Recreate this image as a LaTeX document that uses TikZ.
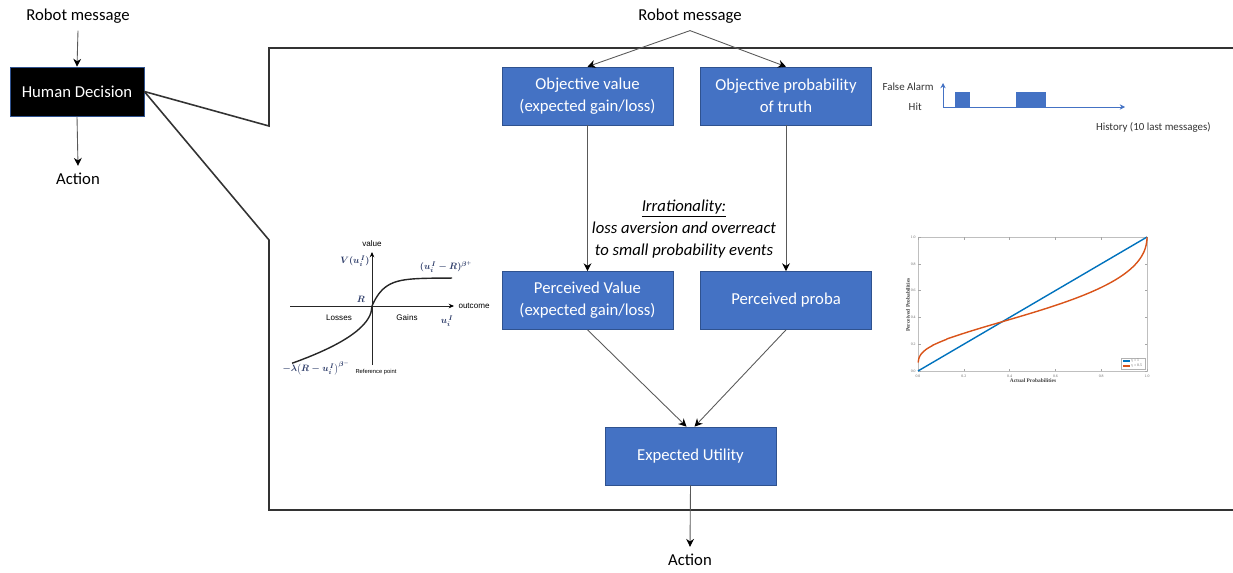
\documentclass[tikz,border=0pt]{standalone}
\usepackage{fontspec}
\setmainfont{Carlito}
\newfontfamily\plotfont{Liberation Sans}
\newfontfamily\matlabfont{Liberation Serif}
\usepackage{amsmath}
\usepackage{xcolor}
\usetikzlibrary{arrows.meta, positioning, calc}
\definecolor{OfficeBlue}{HTML}{4472C4}
\definecolor{OfficeEdge}{HTML}{2F528F}
\definecolor{MatBlue}{HTML}{0072BD}
\definecolor{MatOrange}{HTML}{D95319}
\definecolor{MathNavy}{HTML}{2B3A67}

\begin{document}
\begin{tikzpicture}[
  x=0.02cm, y=-0.02cm,
  >={Stealth[length=4.5pt, width=4.5pt, color=black]},
  block/.style={draw=OfficeEdge, fill=OfficeBlue, text=white, inner sep=0pt,
    minimum width=3.42cm, minimum height=1.16cm, align=center,
    font=\fontsize{9.5}{12.5}\selectfont},
  decision/.style={block, fill=black, minimum width=2.68cm, minimum height=0.98cm},
  caption/.style={inner sep=4pt, font=\fontsize{9.5}{12.5}\selectfont},
  flow/.style={->, draw=black!65, line width=0.5pt},
  frame/.style={draw=black!80, line width=0.9pt},
  plottext/.style={inner sep=0pt, font=\plotfont\fontsize{4.6}{5}\selectfont},
  plotmath/.style={inner sep=0pt, text=MathNavy, font=\fontsize{11}{13}\selectfont,
    scale=0.48, transform shape},
  histtext/.style={inner sep=0pt, text=black!80, font=\fontsize{6.2}{7}\selectfont},
  histaxis/.style={draw=OfficeBlue, line width=0.5pt,
    -{Stealth[length=3pt, width=3pt, color=OfficeBlue]}},
  matlab/.style={inner sep=0pt, text=black!75, font=\matlabfont\bfseries\fontsize{3.1}{3.5}\selectfont},
  tick/.style={inner sep=0pt, text=black!60, font=\matlabfont\fontsize{2.2}{2.5}\selectfont}
]
\useasboundingbox (0,0) rectangle (1233,572);

% Human decision overview
\node[caption] (msgL) at (78,16) {Robot message};
\node[decision] (hd) at (77,91.5) {Human Decision};
\node[caption] (actL) at (78,179) {Action};
\draw[flow] (msgL.south) -- (hd.north);
\draw[flow] (hd.south) -- (actL.north);

% Zoomed frame
\coordinate (fTopIn) at (269,126);
\coordinate (fTopL) at (269,48);
\coordinate (fTopR) at (1233,48);
\coordinate (fBotIn) at (269,240);
\coordinate (fBotL) at (269,510);
\coordinate (fBotR) at (1233,510);
\draw[frame] (hd.east) -- (fTopIn) -- (fTopL) -- (fTopR);
\draw[frame] (hd.east) -- (fBotIn) -- (fBotL) -- (fBotR);

% Decision model
\node[caption] (msgT) at (690,16) {Robot message};
\node[block] (ov) at (587.5,96) {Objective value\\(expected gain/loss)};
\node[block] (op) at (786,96) {Objective probability\\of truth};
\node[block] (pv) at (587.5,300.5) {Perceived Value\\(expected gain/loss)};
\node[block] (pp) at (786,300.5) {Perceived proba};
\node[block] (eu) at (690.5,456) {Expected Utility};
\node[caption] (actT) at (690,560) {Action};
\node[caption, font=\fontsize{9.5}{12.5}\selectfont\itshape, align=center] (irr) at (684,229)
  {\underline{Irrationality:}\\loss aversion and overreact\\to small probability events};

\draw[flow] (msgT.south) -- (ov.north);
\draw[flow] (msgT.south) -- (op.north);
\draw[flow] (ov.south) -- (pv.north);
\draw[flow] (op.south) -- (pp.north);
\draw[flow] (pv.south) -- ($(eu.north)+(-4,0)$);
\draw[flow] (pp.south) -- ($(eu.north)+(4,0)$);
\draw[flow] (eu.south) -- (actT.north);

% History of messages
\coordinate (hO) at (943,107);
\draw[histaxis] (hO) -- (943,83);
\draw[histaxis] (hO) -- (1125,107);
\fill[OfficeBlue] (955,92) rectangle (970,107);
\fill[OfficeBlue] (1016,92) rectangle (1046,107);
\node[histtext, anchor=east] (faL) at (934,87) {False Alarm};
\node[histtext, anchor=east] (hitL) at (922,107) {Hit};
\node[histtext, anchor=east] (histL) at (1211,127) {History (10 last messages)};

% Value function
\draw[black!85, line width=0.5pt, -{Stealth[length=3pt, width=2.6pt, color=black]}] (372,365) -- (372,252);
\draw[black!85, line width=0.5pt, -{Stealth[length=3pt, width=2.6pt, color=black]}] (290,306) -- (454,306);
\draw[black!85, line width=0.8pt] plot[domain=-80:0, samples=80] ({372+\x},{306+6.4*sqrt(-\x)});
\draw[black!85, line width=0.8pt] plot[domain=0:80, samples=50] ({372+\x},{306-28*(1-exp(-\x/12))});
\node[plottext] (valL) at (372,244) {value};
\node[plottext] (outL) at (474,306) {outcome};
\node[plottext] (lossL) at (339,318) {Losses};
\node[plottext] (gainL) at (407,318) {Gains};
\node[plottext, font=\plotfont\fontsize{3.3}{4}\selectfont] (refL) at (376,372) {Reference point};
\node[plotmath] (vL) at (355,261) {$\boldsymbol{V(u_i^{\,I})}$};
\node[plotmath] (rL) at (361,299) {$\boldsymbol{R}$};
\node[plotmath] (uL) at (447,321) {$\boldsymbol{u_i^{\,I}}$};
\node[plotmath] (gF) at (446,267) {$\boldsymbol{(u_i^{\,I}-R)^{\beta^+}}$};
\node[plotmath] (lF) at (316,368) {$\boldsymbol{-\lambda\bigl(R-u_i^{\,I}\bigr)^{\beta^-}}$};

% Probability weighting
\draw[black!25, line width=0.3pt] (918,237) rectangle (1147,371);
\foreach \t/\lbl/\k in {0/0.0/a, 0.2/0.2/b, 0.4/0.4/c, 0.6/0.6/d, 0.8/0.8/e, 1/1.0/f} {
  \draw[black!35, line width=0.2pt] ({918+229*\t},371) -- ++(0,-2.5);
  \draw[black!35, line width=0.2pt] ({918+229*\t},237) -- ++(0,2.5);
  \draw[black!35, line width=0.2pt] (918,{371-134*\t}) -- ++(2.5,0);
  \draw[black!35, line width=0.2pt] (1147,{371-134*\t}) -- ++(-2.5,0);
  \node[tick] (xt\k) at ({918+229*\t},376) {\lbl};
  \node[tick, anchor=east] (yt\k) at (916,{371-134*\t}) {\lbl};
}
\draw[MatBlue, line width=0.8pt] (918,371) -- (1147,237);
\draw[MatOrange, line width=0.8pt] plot[domain=0.0005:0.9999, samples=300]
  ({918+229*\x},{371-134*exp(-sqrt(-ln(\x)))}) -- (1147,237);
\node[matlab] (xLbl) at (1033,381) {Actual Probabilities};
\node[matlab, rotate=90] (yLbl) at (908,305) {Perceived Probabilities};
\draw[black!30, line width=0.2pt, fill=white] (1121,358) rectangle (1145,369);
\draw[MatBlue, line width=0.7pt] (1123,361) -- (1130,361);
\draw[MatOrange, line width=0.7pt] (1123,366) -- (1130,366);
\node[tick, anchor=west] (lg1) at (1131,361) {γ = 1};
\node[tick, anchor=west] (lg2) at (1131,366) {γ = 0.5};

\end{tikzpicture}
\end{document}
